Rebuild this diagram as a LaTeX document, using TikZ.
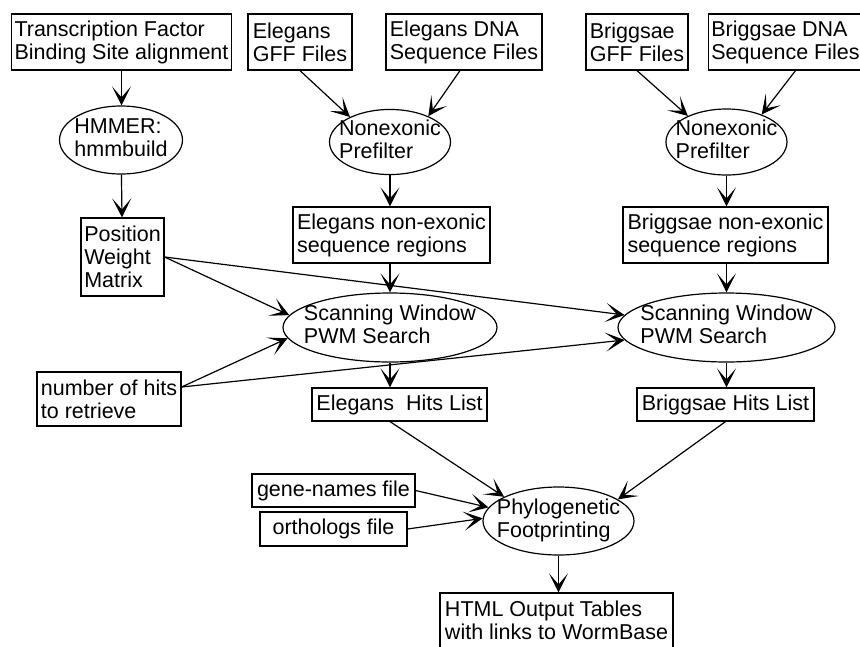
\documentclass[tikz,border=0pt]{standalone}
\usepackage{fontspec}
\setmainfont{Liberation Sans}
\usetikzlibrary{shapes.geometric,arrows.meta}
\newcommand{\ovallines}[1]{\makebox[0pt]{\begin{tabular}{@{}l@{}}#1\end{tabular}}}

\begin{document}
\begin{tikzpicture}[
  font=\fontsize{21.5}{23}\selectfont,
  line width=1.2pt,
  >={Stealth[length=19pt,width=19pt,inset=11pt]},
  file_box/.style={draw, rectangle, align=left, inner sep=3pt},
  tool_oval/.style={draw, ellipse, inner sep=0pt},
]
\useasboundingbox (0,0) rectangle (860pt,-646pt);
% inputs
\draw (121.5pt,-42pt) node (tf) [file_box, minimum width=219pt, minimum height=56pt] {Transcription Factor\\Binding Site alignment};
\draw (300pt,-42pt) node (egff) [file_box, minimum width=104pt, minimum height=56pt] {Elegans\\GFF Files};
\draw (464pt,-42pt) node (edna) [file_box, minimum width=156pt, minimum height=56pt] {Elegans DNA\\Sequence Files};
\draw (637pt,-42pt) node (bgff) [file_box, minimum width=102pt, minimum height=56pt] {Briggsae\\GFF Files};
\draw (785.5pt,-42pt) node (bdna) [file_box, minimum width=153pt, minimum height=56pt] {Briggsae DNA\\Sequence Files};
% first stage
\draw (121pt,-140pt) node (hmmer) [tool_oval, minimum width=123pt, minimum height=68pt] {\ovallines{HMMER:\\hmmbuild}};
\draw (390pt,-142pt) node (enonex) [tool_oval, minimum width=121pt, minimum height=65pt] {\ovallines{Nonexonic\\Prefilter}};
\draw (726.5pt,-142pt) node (bnonex) [tool_oval, minimum width=121pt, minimum height=66pt] {\ovallines{Nonexonic\\Prefilter}};
\draw (122.5pt,-257pt) node (pwm) [file_box, minimum width=83pt, minimum height=78pt] {Position\\Weight\\Matrix};
\draw (391.5pt,-235pt) node (ereg) [file_box, minimum width=197pt, minimum height=56pt] {Elegans non-exonic\\sequence regions};
\draw (725.5pt,-235pt) node (breg) [file_box, minimum width=205pt, minimum height=56pt] {Briggsae non-exonic\\sequence regions};
% search
\draw (390pt,-327.5pt) node (escan) [tool_oval, minimum width=214pt, minimum height=69pt] {\ovallines{Scanning Window\\PWM Search}};
\draw (726.5pt,-327.5pt) node (bscan) [tool_oval, minimum width=217pt, minimum height=69pt] {\ovallines{Scanning Window\\PWM Search}};
\draw (109pt,-399pt) node (nhits) [file_box, minimum width=144pt, minimum height=54pt] {number of hits\\to retrieve};
\draw (399.5pt,-404.5pt) node (ehits) [file_box, minimum width=175pt, minimum height=33pt] {Elegans\ \ Hits List};
\draw (725.5pt,-404.5pt) node (bhits) [file_box, minimum width=177pt, minimum height=33pt] {Briggsae Hits List};
% footprinting
\draw (333.5pt,-490.5pt) node (genes) [file_box, minimum width=163pt, minimum height=33pt] {gene-names file};
\draw (333.5pt,-529pt) node (orth) [file_box, minimum width=147pt, minimum height=34pt] {orthologs file};
\draw (558.5pt,-521pt) node (phylo) [tool_oval, minimum width=151pt, minimum height=68pt] {\ovallines{Phylogenetic\\Footprinting}};
\draw (556.5pt,-620.5pt) node (html) [file_box, minimum width=233pt, minimum height=55pt] {HTML Output Tables\\with links to WormBase};
% connectors
\draw[->] (tf.south) -- (tf.south |- hmmer.north);
\draw[->] (hmmer) -- (pwm);
\draw[->] (egff.south) -- (enonex.148);
\draw[->] ([xshift=-4pt]edna.south) -- (enonex.34);
\draw[->] (bgff.south) -- (bnonex.146);
\draw[->] ([xshift=10pt]bdna.south) -- (bnonex.38);
\draw[->] (enonex.south) -- (enonex.south |- ereg.north);
\draw[->] (bnonex.south) -- (bnonex.south |- breg.north);
\draw[->] (ereg.south -| escan.north) -- (escan.north);
\draw[->] (breg.south -| bscan.north) -- (bscan.north);
\draw[->] (pwm.east) -- (escan.173);
\draw[->] (pwm.east) -- (bscan.173);
\draw[->] ([yshift=12pt]nhits.east) -- (escan.186);
\draw[->] ([yshift=12pt]nhits.east) -- (bscan.187);
\draw[->] (escan.south) -- (escan.south |- ehits.north);
\draw[->] (bscan.south) -- (bscan.south |- bhits.north);
\draw[->] (ehits.south -| escan.south) -- (phylo.156);
\draw[->] (bhits.south) -- (phylo.20);
\draw[->] (genes.east) -- (phylo.169);
\draw[->] (orth.east) -- (phylo.178);
\draw[->] (phylo.south) -- (phylo.south |- html.north);
\end{tikzpicture}
\end{document}
